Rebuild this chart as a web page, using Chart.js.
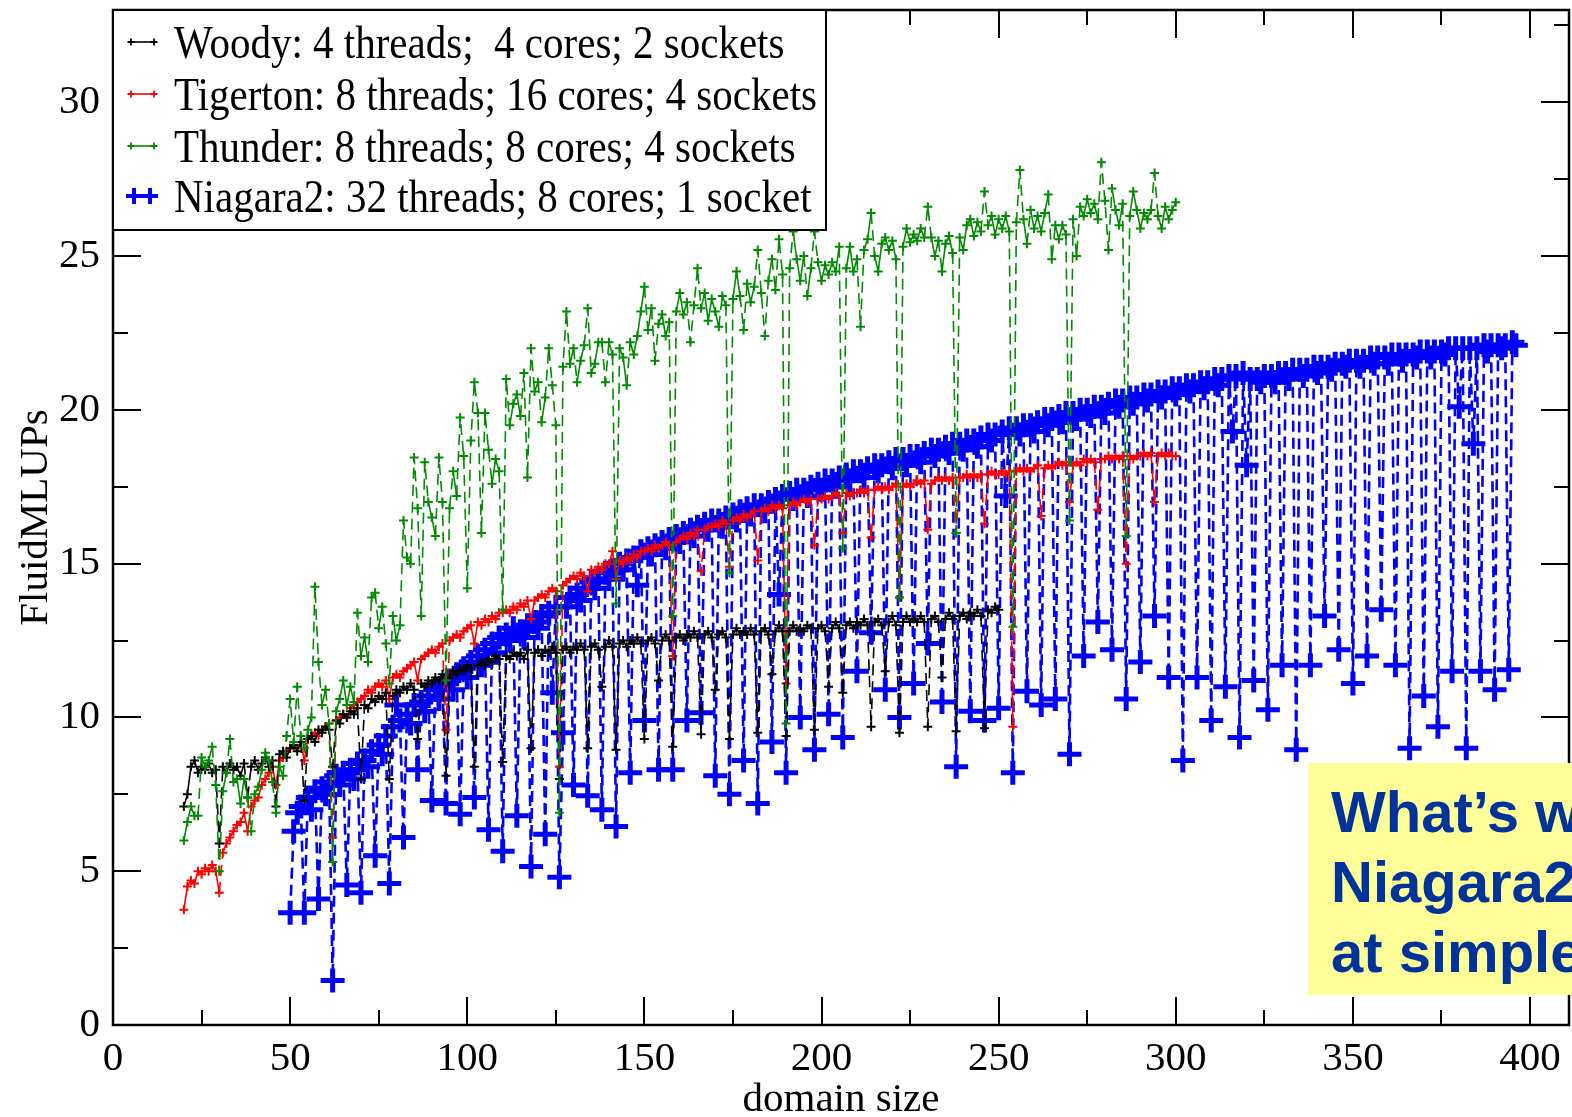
<!DOCTYPE html>
<html>
<head>
<meta charset="utf-8">
<title>FluidMLUPs vs domain size</title>
<script src="https://cdn.jsdelivr.net/npm/chart.js@4.4.1/dist/chart.umd.min.js"></script>
<style>
  html, body { margin: 0; padding: 0; background: #fff; overflow: hidden; }
  #wrap { position: relative; width: 1572px; height: 1117px; overflow: hidden; }
  #note {
    position: absolute; left: 1308px; top: 763px; width: 320px; height: 232px;
    background: #ffff99; box-sizing: border-box; padding: 14px 0 0 23px;
    font: bold 58px "Liberation Sans", Arial, sans-serif; line-height: 70px;
    color: #003399; white-space: nowrap;
  }
</style>
</head>
<body>
<div id="wrap">
  <canvas id="perfChart" width="1572" height="1117"></canvas>
  <div id="note">What’s w<br>Niagara2<br>at simple</div>
</div>
<script>
// axis ticks
const xTicks = [0, 50, 100, 150, 200, 250, 300, 350, 400];
const xMinor = [25, 75, 125, 175, 225, 275, 325, 375];
const yTicks = [0, 5, 10, 15, 20, 25, 30];
const yMinor = [2.5, 7.5, 12.5, 17.5, 22.5, 27.5, 32.5];

// series labels
const seriesNames = [
  'Woody: 4 threads;  4 cores; 2 sockets',
  'Tigerton: 8 threads; 16 cores; 4 sockets',
  'Thunder: 8 threads; 8 cores; 4 sockets',
  'Niagara2: 32 threads; 8 cores; 1 socket'
];

// Woody, domain size 20..250
const woodyStart = 20;
const woody = [
  7.1, 7.5, 8.4, 8.6, 8.2, 8.4, 8.3, 8.5, 8.2, 8.3,
  5.9, 8.4, 8.2, 8.5, 8.3, 8.4, 8.1, 8.5, 7.4, 8.4,
  8.6, 8.3, 8.5, 8.7, 8.4, 8.6, 7.1, 8.8, 8.9, 8.7,
  9.0, 9.1, 8.9, 9.2, 7.3, 9.3, 9.4, 9.2, 9.6, 9.5,
  9.7, 9.6, 8.4, 9.9, 9.8, 10.1, 10.0, 10.2, 10.1, 10.3,
  8.0, 10.4, 10.3, 10.6, 10.5, 10.7, 10.6, 10.8, 8.0, 10.7,
  10.9, 10.8, 11.0, 10.9, 11.1, 10.9, 9.3, 11.1, 11.0, 11.2,
  11.1, 11.3, 11.2, 11.4, 8.1, 11.3, 11.5, 11.4, 11.6, 11.5,
  11.7, 11.6, 8.4, 11.7, 11.8, 11.7, 11.9, 11.8, 12.0, 11.9,
  8.55, 12.0, 11.9, 12.1, 12.0, 12.1, 11.9, 12.2, 9.0, 12.1,
  12.2, 12.0, 12.2, 12.1, 12.3, 12.1, 8.0, 12.2, 12.3, 12.1,
  12.3, 12.2, 12.4, 12.2, 9.0, 12.3, 12.4, 12.2, 11.0, 12.3,
  12.5, 12.3, 8.95, 12.4, 12.5, 12.3, 12.5, 12.4, 12.6, 12.4,
  9.3, 12.5, 12.6, 12.4, 11.2, 12.5, 12.7, 12.5, 9.05, 12.6,
  12.7, 12.5, 12.7, 12.6, 12.8, 12.6, 9.45, 12.7, 12.8, 12.6,
  10.9, 12.7, 12.8, 12.6, 9.3, 12.7, 12.9, 12.7, 12.8, 12.7,
  12.9, 12.7, 9.5, 12.8, 12.9, 12.7, 11.4, 12.8, 13.0, 12.8,
  9.4, 12.8, 13.0, 12.8, 12.9, 12.8, 13.0, 12.9, 9.6, 12.9,
  13.0, 12.8, 11.0, 12.9, 13.1, 12.9, 10.8, 13.0, 13.1, 12.9,
  13.1, 13.0, 13.2, 13.0, 9.7, 13.1, 13.2, 13.0, 11.5, 13.1,
  13.3, 13.0, 9.5, 13.1, 13.3, 13.1, 13.2, 13.1, 13.3, 13.1,
  9.7, 13.2, 13.3, 13.1, 11.3, 13.2, 13.4, 13.2, 9.55, 13.3,
  13.4, 13.2, 13.4, 13.3, 13.5, 13.3, 9.65, 13.5, 13.4, 13.6,
  13.5
];

// Tigerton, domain size 20..300
const tigertonStart = 20;
const tigerton = [
  3.75, 4.5, 4.7, 4.6, 5.0, 4.9, 5.1, 5.0, 5.2, 5.0,
  4.3, 5.6, 5.9, 6.1, 6.3, 6.5, 6.6, 6.9, 6.3, 7.1,
  7.3, 7.4, 7.8, 8.0, 8.2, 8.4, 7.8, 8.6, 8.7, 8.9,
  9.0, 9.1, 9.0, 9.2, 8.6, 9.3, 9.4, 9.5, 9.4, 9.6,
  9.7, 9.8, 6.1, 9.9, 10.0, 10.1, 10.0, 10.3, 10.4, 10.5,
  10.6, 10.7, 10.9, 10.8, 11.0, 11.1, 11.0, 11.2, 10.6, 11.3,
  11.4, 11.3, 11.5, 11.6, 11.7, 11.8, 11.2, 11.9, 12.0, 12.1,
  12.2, 12.1, 12.3, 12.4, 9.6, 12.5, 12.6, 12.7, 12.6, 12.8,
  12.9, 13.0, 12.4, 13.1, 13.0, 13.2, 13.1, 13.3, 13.2, 13.4,
  13.4, 13.5, 13.4, 13.6, 13.5, 13.7, 13.6, 13.8, 13.2, 13.8,
  13.9, 14.0, 13.9, 14.1, 14.2, 14.1, 8.4, 14.3, 14.4, 14.5,
  14.6, 14.5, 14.7, 14.6, 14.1, 14.8, 14.7, 14.9, 14.8, 15.0,
  15.0, 15.4, 14.5, 15.1, 15.0, 15.2, 15.1, 15.3, 15.2, 15.4,
  15.4, 15.5, 15.4, 15.6, 15.5, 15.6, 15.7, 15.6, 12.0, 15.7,
  15.8, 15.9, 15.8, 16.0, 15.9, 16.1, 14.75, 16.1, 16.2, 16.2,
  16.3, 16.2, 16.4, 16.3, 14.9, 16.4, 16.5, 16.4, 16.6, 16.5,
  16.6, 16.7, 15.1, 16.7, 16.8, 16.7, 16.9, 16.8, 16.9, 16.8,
  11.1, 16.9, 17.0, 16.9, 17.0, 17.1, 17.0, 17.1, 15.6, 17.1,
  17.1, 17.2, 17.1, 17.2, 17.3, 17.2, 16.0, 17.3, 17.2, 17.3,
  17.3, 17.4, 17.3, 17.4, 15.85, 17.4, 17.5, 17.4, 17.5, 17.4,
  17.5, 17.6, 13.9, 17.5, 17.6, 17.5, 17.6, 17.7, 17.6, 17.7,
  16.1, 17.6, 17.7, 17.8, 17.7, 17.8, 17.7, 17.8, 16.0, 17.8,
  17.8, 17.9, 17.8, 17.9, 17.8, 17.9, 16.3, 17.9, 18.0, 17.9,
  17.9, 18.0, 17.9, 18.0, 9.7, 18.0, 18.1, 18.0, 18.1, 18.0,
  18.1, 18.2, 16.55, 18.1, 18.2, 18.1, 18.2, 18.3, 18.2, 18.3,
  17.0, 18.2, 18.3, 18.2, 18.4, 18.3, 18.4, 18.3, 16.75, 18.4,
  18.4, 18.5, 18.4, 18.5, 18.4, 18.5, 15.0, 18.5, 18.4, 18.5,
  18.5, 18.6, 18.5, 18.6, 17.0, 18.5, 18.6, 18.5, 18.6, 18.5,
  18.5
];

// Thunder, domain size 20..300
const thunderStart = 20;
const thunder = [
  6.0, 6.6, 7.1, 6.8, 6.8, 8.7, 8.4, 8.6, 9.05, 7.8,
  5.0, 7.6, 8.2, 9.3, 7.9, 8.0, 7.2, 8.0, 7.4, 6.3,
  7.5, 7.75, 8.3, 8.85, 8.6, 7.9, 6.9, 8.4, 8.1, 9.4,
  10.6, 9.2, 11.0, 9.4, 9.0, 9.6, 10.0, 14.25, 11.8, 10.4,
  10.9, 9.8, 5.3, 10.2, 10.6, 11.2, 10.4, 11.0, 10.5, 13.4,
  12.0, 12.6, 11.8, 13.9, 14.05, 12.9, 13.6, 12.4, 11.1, 13.3,
  12.5, 13.0, 16.4, 15.2, 15.0, 18.45, 16.8, 13.3, 18.3, 17.0,
  16.5, 15.9, 18.45, 17.0, 11.2, 16.8, 18.0, 17.2, 19.75, 18.5,
  14.2, 19.0, 20.9, 19.9, 16.0, 19.9, 18.7, 17.6, 18.4, 18.0,
  13.5, 21.0, 19.5, 20.2, 20.5, 19.8, 21.2, 17.8, 22.0, 20.6,
  20.9, 19.6, 20.4, 22.0, 20.8, 19.5, 6.9, 21.4, 23.2, 21.5,
  22.0, 20.9, 21.6, 22.1, 23.3, 21.2, 21.5, 22.2, 22.2, 20.9,
  22.2, 21.8, 13.7, 22.0, 21.7, 20.8, 22.2, 21.8, 22.4, 23.2,
  24.0, 22.6, 23.3, 21.6, 22.8, 23.1, 22.4, 22.85, 13.3, 23.2,
  23.8, 23.1, 23.5, 22.2, 23.4, 24.6, 23.3, 23.8, 22.9, 23.6,
  23.2, 22.7, 23.7, 23.4, 14.7, 23.6, 24.5, 23.7, 22.6, 24.1,
  23.5, 24.0, 25.2, 23.8, 22.4, 24.2, 24.9, 23.9, 25.55, 24.4,
  9.8, 24.6, 25.8, 24.9, 24.2, 25.0, 23.7, 24.6, 25.8, 24.8,
  24.2, 24.7, 24.4, 24.8, 24.5, 25.3, 15.5, 24.6, 25.3, 24.5,
  24.9, 22.7, 25.2, 25.55, 26.4, 25.0, 24.5, 25.4, 25.6, 25.2,
  25.5, 24.9, 13.9, 25.3, 25.9, 25.45, 25.7, 25.5, 25.9, 25.6,
  26.6, 25.6, 25.0, 25.5, 24.5, 25.4, 25.65, 25.1, 16.0, 25.6,
  25.2, 26.0, 26.2, 25.65, 26.1, 25.8, 27.1, 26.0, 26.3, 25.7,
  26.2, 25.9, 26.3, 25.8, 12.95, 26.1, 27.8, 26.2, 25.4, 26.5,
  25.9, 26.3, 25.8, 26.4, 27.0, 24.9, 26.0, 25.55, 26.0, 25.7,
  16.4, 26.2, 25.0, 26.6, 26.3, 26.85, 26.4, 26.7, 26.2, 28.05,
  26.8, 25.2, 27.2, 26.5, 26.0, 26.7, 15.9, 26.3, 27.1, 26.5,
  25.9, 26.4, 26.2, 26.5, 27.7, 26.3, 25.9, 26.6, 26.2, 26.5,
  26.75
];

// Niagara2, domain size 50..396
const niagaraStart = 50;
const niagara = [
  3.65, 6.3, 6.9, 7.1, 3.65, 7.4, 7.0, 7.6, 4.1, 7.7,
  7.5, 7.9, 1.45, 8.1, 7.8, 8.2, 4.55, 8.3, 8.0, 8.5,
  4.3, 8.6, 8.4, 8.9, 5.5, 9.1, 8.8, 9.4, 4.6, 9.7,
  10.4, 9.9, 6.1, 10.1, 9.8, 10.4, 8.3, 10.5, 10.2, 10.7,
  7.3, 10.9, 10.6, 11.0, 7.2, 11.2, 10.9, 11.4, 6.85, 11.6,
  11.3, 11.8, 7.4, 12.0, 11.7, 12.2, 6.35, 12.4, 12.1, 12.6,
  5.65, 12.7, 12.5, 12.9, 6.8, 12.8, 12.6, 13.0, 5.15, 13.1,
  12.9, 13.3, 6.2, 13.4, 10.8, 13.6, 4.8, 9.5, 13.6, 13.9,
  7.8, 14.0, 13.8, 14.2, 7.45, 14.4, 14.2, 14.5, 7.0, 14.7,
  14.5, 14.8, 6.45, 15.0, 14.8, 15.1, 8.2, 15.2, 14.3, 15.4,
  9.9, 15.5, 15.3, 15.6, 8.3, 15.7, 15.5, 15.8, 8.3, 15.9,
  15.7, 16.0, 9.9, 16.1, 15.9, 16.2, 10.15, 16.3, 16.1, 16.4,
  8.1, 16.4, 16.2, 16.5, 7.5, 16.6, 16.4, 16.7, 8.6, 16.8,
  16.6, 16.9, 7.2, 16.9, 16.7, 17.0, 9.2, 17.1, 14.0, 17.2,
  8.2, 17.3, 17.1, 17.4, 10.0, 17.4, 17.2, 17.5, 8.95, 17.6,
  17.4, 17.7, 10.1, 17.7, 17.5, 17.8, 9.35, 17.9, 17.7, 18.0,
  11.5, 18.0, 17.8, 18.1, 12.75, 18.2, 18.0, 18.2, 10.9, 18.3,
  18.1, 18.4, 10.0, 18.4, 18.2, 18.5, 11.1, 18.5, 18.3, 18.6,
  12.4, 18.7, 18.5, 18.7, 10.5, 18.8, 18.6, 18.9, 8.4, 18.9,
  18.7, 19.0, 10.2, 19.0, 18.8, 19.1, 9.9, 19.2, 19.0, 19.2,
  10.3, 19.3, 17.2, 19.4, 8.2, 19.4, 19.2, 19.5, 10.85, 19.5,
  19.3, 19.6, 10.4, 19.7, 19.5, 19.7, 10.6, 19.8, 19.6, 19.9,
  8.8, 19.9, 19.7, 20.0, 12.0, 20.0, 19.8, 20.1, 13.1, 20.1,
  19.9, 20.2, 12.2, 20.3, 20.1, 20.3, 10.6, 20.4, 20.2, 20.4,
  11.8, 20.5, 20.3, 20.5, 13.3, 20.6, 20.4, 20.6, 11.3, 20.7,
  20.5, 20.7, 8.6, 20.8, 20.6, 20.8, 11.3, 20.9, 20.7, 20.9,
  9.9, 21.0, 20.8, 21.0, 11.0, 21.1, 19.3, 21.1, 9.35, 21.2,
  18.2, 21.0, 11.2, 21.0, 20.9, 21.1, 10.25, 21.1, 20.9, 21.2,
  11.7, 21.2, 21.0, 21.3, 8.95, 21.3, 21.1, 21.3, 11.7, 21.4,
  21.2, 21.4, 13.3, 21.4, 21.3, 21.5, 12.2, 21.5, 21.4, 21.6,
  11.1, 21.6, 21.4, 21.6, 12.0, 21.7, 21.5, 21.7, 13.5, 21.7,
  21.5, 21.8, 11.7, 21.8, 21.6, 21.8, 9.0, 21.8, 21.7, 21.9,
  10.7, 21.9, 21.7, 21.9, 9.7, 21.9, 21.8, 22.0, 11.5, 22.0,
  20.1, 22.0, 9.0, 22.0, 18.9, 22.0, 11.5, 22.1, 21.9, 22.1,
  10.9, 22.1, 22.0, 22.1, 11.55, 22.2, 22.1
];

const serif = "'Liberation Serif', 'Times New Roman', serif";
const colors = ['#000000', '#ff0000', '#008b00', '#0000ff'];
const markSize = [4.5, 4.5, 4.5, 12];
const markWidth = [2, 2, 2, 5];
const lineWidth = [1.6, 1.6, 1.6, 2.6];

function toPoints(start, vals) {
  return vals.map((v, i) => ({ x: start + i, y: v }));
}

// long drops are drawn broken, short steps solid
const steepDash = ctx => Math.abs(ctx.p1.y - ctx.p0.y) > 30 ? [11, 6] : undefined;

function series(idx, start, vals, order) {
  const c = colors[idx];
  return {
    label: seriesNames[idx],
    data: toPoints(start, vals),
    borderColor: c,
    backgroundColor: c,
    borderWidth: lineWidth[idx],
    pointStyle: 'cross',
    pointRadius: markSize[idx],
    pointHoverRadius: markSize[idx],
    pointBorderColor: c,
    pointBorderWidth: markWidth[idx],
    tension: 0,
    order: order,
    segment: { borderDash: steepDash }
  };
}

// frame with inward ticks on all four sides
const frameTicks = {
  id: 'frameTicks',
  afterDatasetsDraw(chart) {
    const { ctx, chartArea: a, scales: { x, y } } = chart;
    ctx.save();
    ctx.strokeStyle = '#000';
    ctx.lineWidth = 2;
    ctx.beginPath();
    const vt = (vals, len) => vals.forEach(v => {
      const px = Math.round(x.getPixelForValue(v));
      ctx.moveTo(px, a.bottom); ctx.lineTo(px, a.bottom - len);
      ctx.moveTo(px, a.top); ctx.lineTo(px, a.top + len);
    });
    const ht = (vals, len) => vals.forEach(v => {
      const py = Math.round(y.getPixelForValue(v));
      ctx.moveTo(a.left, py); ctx.lineTo(a.left + len, py);
      ctx.moveTo(a.right, py); ctx.lineTo(a.right - len, py);
    });
    vt(xTicks, 28); vt(xMinor, 15);
    ht(yTicks, 28); ht(yMinor, 15);
    ctx.stroke();
    ctx.lineWidth = 2.5;
    ctx.strokeRect(a.left, a.top, a.right - a.left, a.bottom - a.top);
    ctx.restore();
  }
};

// boxed legend in the upper left corner
const boxLegend = {
  id: 'boxLegend',
  afterDraw(chart) {
    const { ctx, chartArea: a } = chart;
    const left = a.left, top = a.top, w = 713, h = 220;
    ctx.save();
    ctx.fillStyle = '#fff';
    ctx.fillRect(left, top, w, h);
    ctx.strokeStyle = '#000';
    ctx.lineWidth = 2;
    ctx.strokeRect(left, top, w, h);
    const rows = [42, 94, 146, 196];
    ctx.textBaseline = 'alphabetic';
    rows.forEach((ry, i) => {
      const c = colors[i];
      const big = i === 3;
      const x0 = big ? 134 : 131, x1 = big ? 150 : 154;
      ctx.strokeStyle = c;
      ctx.lineWidth = lineWidth[i];
      ctx.beginPath();
      ctx.moveTo(x0, ry); ctx.lineTo(x1, ry);
      ctx.stroke();
      const r = big ? 8 : 3.5;
      ctx.lineWidth = big ? 4 : 1.8;
      ctx.beginPath();
      [x0, x1].forEach(px => {
        ctx.moveTo(px - r, ry); ctx.lineTo(px + r, ry);
        ctx.moveTo(px, ry - r); ctx.lineTo(px, ry + r);
      });
      ctx.stroke();
      // slightly tall lettering
      ctx.save();
      ctx.translate(174, ry + 16);
      ctx.scale(1, 1.12);
      ctx.font = '41px ' + serif;
      ctx.fillStyle = '#000';
      ctx.fillText(seriesNames[i], 0, 0);
      ctx.restore();
    });
    ctx.restore();
  }
};

Chart.defaults.font.family = serif;
Chart.defaults.color = '#000';

new Chart(document.getElementById('perfChart'), {
  type: 'line',
  data: {
    datasets: [
      series(3, niagaraStart, niagara, 4),
      series(1, tigertonStart, tigerton, 3),
      series(0, woodyStart, woody, 2),
      series(2, thunderStart, thunder, 1)
    ]
  },
  options: {
    responsive: false,
    animation: false,
    devicePixelRatio: 1,
    layout: { autoPadding: false, padding: { top: 10, right: 3, left: 0, bottom: 0 } },
    plugins: { legend: { display: false }, tooltip: { enabled: false } },
    scales: {
      x: {
        type: 'linear',
        min: 0,
        max: 411,
        grid: { display: false, drawTicks: false },
        border: { display: false },
        afterBuildTicks: s => { s.ticks = xTicks.map(v => ({ value: v })); },
        afterFit: s => { s.height = 92; s.paddingLeft = 0; s.paddingRight = 0; },
        ticks: { font: { size: 41 }, color: '#000', padding: 10, maxRotation: 0, autoSkip: false },
        title: { display: true, text: 'domain size', font: { size: 41 }, color: '#000', padding: { top: 0, bottom: -8 } }
      },
      y: {
        type: 'linear',
        min: 0,
        max: 33,
        grid: { display: false, drawTicks: false },
        border: { display: false },
        afterBuildTicks: s => { s.ticks = yTicks.map(v => ({ value: v })); },
        afterFit: s => { s.width = 113; s.paddingTop = 0; s.paddingBottom = 0; },
        ticks: { font: { size: 41 }, color: '#000', padding: 13, autoSkip: false },
        title: { display: true, text: 'FluidMLUPs', font: { size: 41 }, color: '#000', padding: { top: 12, bottom: 0 } }
      }
    }
  },
  plugins: [frameTicks, boxLegend]
});
</script>
</body>
</html>
